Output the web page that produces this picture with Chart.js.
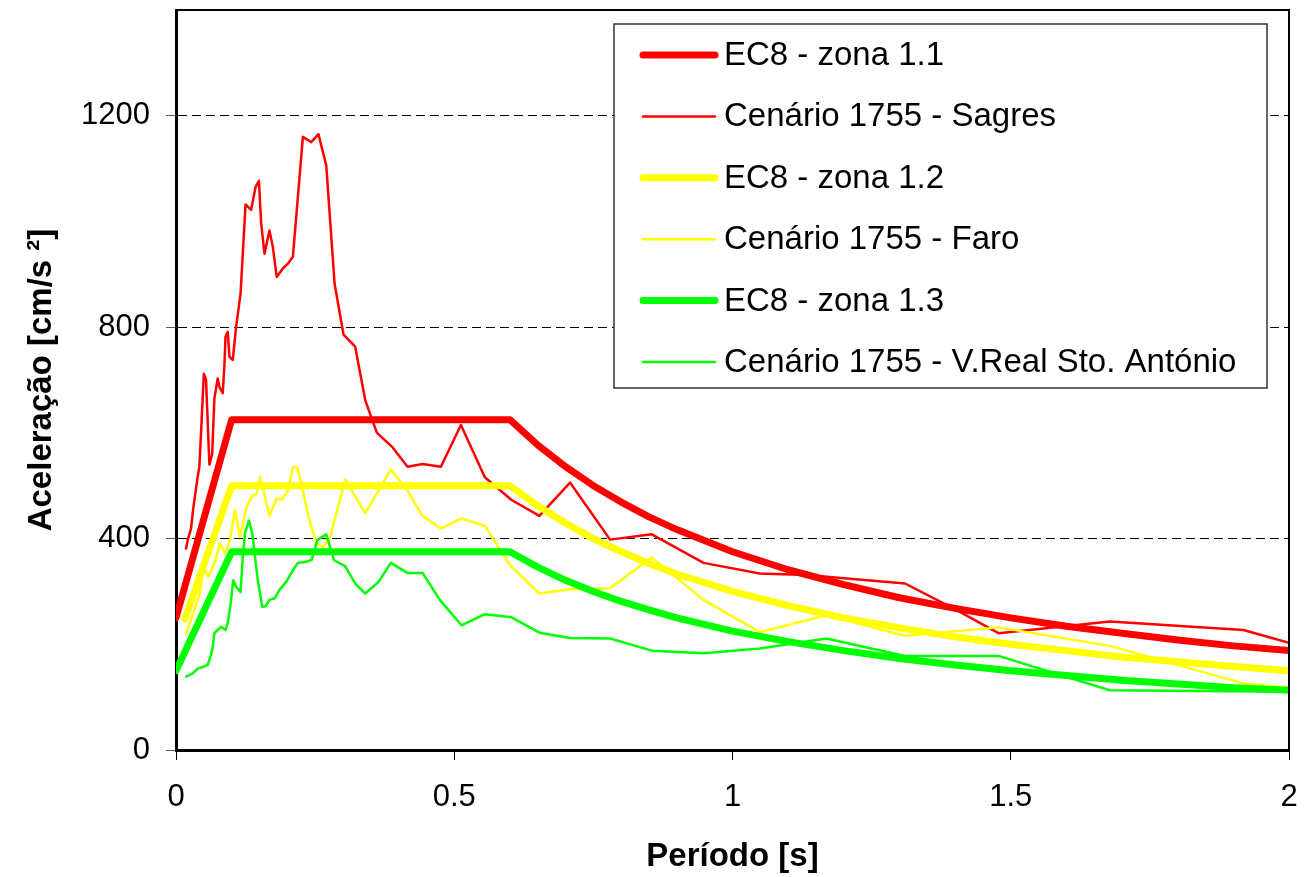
<!DOCTYPE html>
<html>
<head>
<meta charset="utf-8">
<script src="https://cdn.jsdelivr.net/npm/chart.js@4.4.0/dist/chart.umd.min.js"></script>
<style>
  body { margin: 0; background: #fff; }
  #wrap { width: 1309px; height: 877px; }
</style>
</head>
<body>
<div id="wrap"><canvas id="espectros" width="1309" height="877"></canvas></div>
<script>
// Espectros de resposta EC8 (zonas 1.1, 1.2, 1.3) e cenarios do sismo de 1755
var ec8Periodo = [0, 0.1, 0.6, 0.65, 0.7, 0.75, 0.8, 0.85, 0.9, 1.0, 1.1, 1.2, 1.3, 1.4, 1.5, 1.6, 1.7, 1.8, 1.9, 2.0];
var ec8Periodo12 = [0.016, 0.1, 0.6, 0.65, 0.7, 0.75, 0.8, 0.85, 0.9, 1.0, 1.1, 1.2, 1.3, 1.4, 1.5, 1.6, 1.7, 1.8, 1.9, 2.0];
var zona11 = [250, 625, 625, 577, 536, 500, 469, 441, 417, 375, 341, 313, 288, 268, 250, 234, 221, 208, 197, 188];
var zona12 = [248, 500, 500, 462, 429, 400, 375, 353, 333, 300, 273, 250, 231, 214, 200, 188, 176, 167, 158, 150];
var zona13 = [150, 375, 375, 346, 321, 300, 281, 265, 250, 225, 205, 188, 173, 161, 150, 141, 132, 125, 118, 113];

var sagresPeriodo = [0.018, 0.021, 0.027, 0.031, 0.039, 0.042, 0.045, 0.050, 0.054, 0.060, 0.065, 0.069, 0.075, 0.078,
  0.084, 0.087, 0.089, 0.093, 0.096, 0.102, 0.108, 0.116, 0.125, 0.135, 0.143, 0.149, 0.153, 0.159, 0.168, 0.174,
  0.181, 0.192, 0.201, 0.210, 0.219, 0.228, 0.243, 0.256, 0.270, 0.285, 0.301, 0.322, 0.340, 0.361, 0.388, 0.416,
  0.443, 0.476, 0.512, 0.555, 0.603, 0.653, 0.708, 0.780, 0.855, 0.948, 1.049, 1.133, 1.310, 1.397, 1.478, 1.678,
  1.918, 2.0];
var sagresAcel = [381, 397, 419, 457, 517, 536, 600, 712, 700, 540, 560, 665, 703, 687,
  675, 728, 782, 791, 744, 738, 800, 864, 1032, 1022, 1065, 1077, 997, 939, 983, 952,
  895, 911, 920, 933, 1046, 1160, 1150, 1165, 1106, 882, 786, 763, 662, 600, 574, 536,
  541, 536, 615, 516, 473, 443, 506, 398, 408, 354, 334, 331, 315, 268, 221, 243,
  227, 203];

var faroPeriodo = [0.018, 0.025, 0.031, 0.043, 0.049, 0.058, 0.070, 0.079, 0.088, 0.097, 0.106, 0.115, 0.127, 0.136,
  0.145, 0.151, 0.157, 0.168, 0.181, 0.190, 0.202, 0.210, 0.218, 0.229, 0.241, 0.253, 0.264, 0.277, 0.304, 0.340,
  0.386, 0.415, 0.443, 0.476, 0.513, 0.555, 0.600, 0.653, 0.708, 0.780, 0.855, 0.948, 1.049, 1.169, 1.310, 1.478,
  1.678, 1.918, 2.0];
var faroAcel = [221, 240, 259, 297, 347, 328, 356, 391, 372, 397, 454, 403, 460, 479,
  485, 516, 492, 443, 476, 473, 492, 535, 535, 485, 429, 391, 384, 403, 512, 448,
  531, 492, 443, 419, 438, 424, 350, 296, 304, 306, 364, 284, 223, 255, 216, 232,
  197, 126, 118];

var vrsaPeriodo = [0.018, 0.030, 0.039, 0.048, 0.057, 0.063, 0.066, 0.069, 0.075, 0.081, 0.089, 0.093, 0.099, 0.103,
  0.108, 0.116, 0.120, 0.124, 0.131, 0.137, 0.147, 0.155, 0.161, 0.168, 0.177, 0.186, 0.198, 0.210, 0.219, 0.234,
  0.244, 0.254, 0.270, 0.284, 0.304, 0.322, 0.340, 0.364, 0.386, 0.416, 0.443, 0.474, 0.513, 0.555, 0.603, 0.653,
  0.708, 0.780, 0.855, 0.948, 1.049, 1.169, 1.310, 1.478, 1.678, 2.0];
var vrsaAcel = [139, 145, 154, 157, 161, 180, 195, 221, 227, 233, 227, 240, 284, 321,
  309, 299, 366, 410, 434, 410, 321, 271, 272, 284, 287, 303, 318, 340, 354, 356,
  360, 397, 408, 359, 348, 315, 296, 318, 354, 335, 335, 284, 236, 257, 251, 222,
  212, 211, 188, 183, 192, 211, 178, 178, 113, 110];

var xTicks = [0, 0.5, 1, 1.5, 2];
var yTicks = [0, 400, 800, 1200];

var vermelho = '#ff0000', amarelo = '#ffff00', verde = '#00ff00';

function pontos(xs, ys) {
  return xs.map(function (x, i) { return { x: x, y: ys[i] }; });
}

function serie(label, xs, ys, cor, espessura, ordem) {
  return {
    label: label,
    data: pontos(xs, ys),
    borderColor: cor,
    backgroundColor: cor,
    borderWidth: espessura,
    borderJoinStyle: 'round',
    borderCapStyle: 'round',
    pointRadius: 0,
    tension: 0,
    fill: false,
    order: ordem
  };
}

var fonte = '"Liberation Sans", Arial, sans-serif';

// moldura superior/direita e legenda com caixa
var moldura = {
  id: 'moldura',
  afterDraw: function (chart) {
    var a = chart.chartArea, ctx = chart.ctx;
    ctx.save();
    ctx.strokeStyle = '#000';
    ctx.lineWidth = 2;
    ctx.beginPath();
    ctx.moveTo(a.left, a.top);
    ctx.lineTo(a.right, a.top);
    ctx.lineTo(a.right, a.bottom);
    ctx.stroke();

    var bx = 614, by = 24, bw = 653, bh = 364;
    ctx.fillStyle = '#fff';
    ctx.fillRect(bx, by, bw, bh);
    ctx.strokeStyle = '#333';
    ctx.lineWidth = 1.5;
    ctx.strokeRect(bx, by, bw, bh);

    ctx.font = '33px ' + fonte;
    ctx.textBaseline = 'middle';
    ctx.textAlign = 'left';
    chart.data.datasets.forEach(function (ds, i) {
      var y = 55 + i * 61.4;
      ctx.strokeStyle = ds.borderColor;
      ctx.lineWidth = ds.borderWidth;
      ctx.lineCap = 'round';
      ctx.beginPath();
      ctx.moveTo(643, y);
      ctx.lineTo(715, y);
      ctx.stroke();
      ctx.fillStyle = '#000';
      ctx.fillText(ds.label, 724, y + 1);
    });
    ctx.restore();
  }
};

var ctxEsp = document.getElementById('espectros').getContext('2d');
var graficoEsp = new Chart(ctxEsp, {
  type: 'line',
  data: {
    datasets: [
      serie('EC8 - zona 1.1', ec8Periodo, zona11, vermelho, 7, 6),
      serie('Cenário 1755 - Sagres', sagresPeriodo, sagresAcel, vermelho, 2.5, 5),
      serie('EC8 - zona 1.2', ec8Periodo12, zona12, amarelo, 7, 4),
      serie('Cenário 1755 - Faro', faroPeriodo, faroAcel, amarelo, 2.5, 3),
      serie('EC8 - zona 1.3', ec8Periodo, zona13, verde, 7, 2),
      serie('Cenário 1755 - V.Real Sto. António', vrsaPeriodo, vrsaAcel, verde, 2.5, 1)
    ]
  },
  options: {
    responsive: false,
    animation: false,
    layout: { padding: { top: 10, right: 20, left: 0, bottom: 0 } },
    plugins: {
      legend: { display: false },
      tooltip: { enabled: false }
    },
    scales: {
      x: {
        type: 'linear',
        min: 0,
        max: 2,
        afterBuildTicks: function (s) { s.ticks = xTicks.map(function (v) { return { value: v }; }); },
        afterFit: function (s) { s.height = 127; s.paddingLeft = 0; s.paddingRight = 0; },
        grid: { drawOnChartArea: false, drawTicks: true, tickLength: 10, tickColor: '#000', tickWidth: 1 },
        border: { display: true, color: '#000', width: 3 },
        ticks: {
          color: '#000',
          padding: 19,
          maxRotation: 0,
          font: { family: fonte, size: 31 },
          callback: function (v) { return String(v); }
        },
        title: {
          display: true,
          text: 'Período [s]',
          color: '#000',
          padding: { top: 0, bottom: 0 },
          font: { family: fonte, size: 33, weight: 'bold' }
        }
      },
      y: {
        min: 0,
        max: 1400,
        afterBuildTicks: function (s) { s.ticks = yTicks.map(function (v) { return { value: v }; }); },
        afterFit: function (s) { s.width = 176; s.paddingTop = 0; s.paddingBottom = 0; },
        grid: { color: '#000', lineWidth: 1, drawTicks: true, tickLength: 10, tickColor: '#555', tickBorderDash: [] },
        border: { display: true, color: '#000', width: 3, dash: [9, 5] },
        ticks: {
          color: '#000',
          padding: 16,
          font: { family: fonte, size: 31 },
          callback: function (v) { return String(v); }
        },
        title: {
          display: true,
          text: 'Aceleração [cm/s ²]',
          color: '#000',
          padding: { top: 22, bottom: 0 },
          font: { family: fonte, size: 33, weight: 'bold' }
        }
      }
    }
  },
  plugins: [moldura]
});
</script>
</body>
</html>
